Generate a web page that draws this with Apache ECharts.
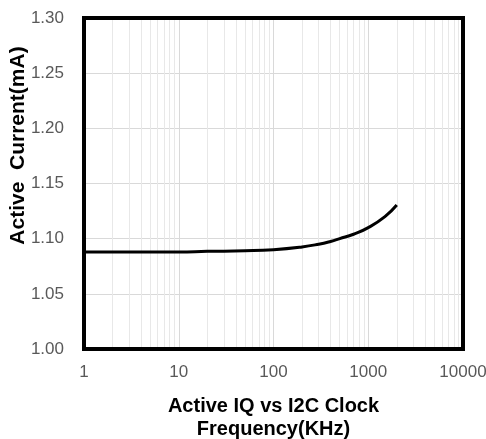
<!DOCTYPE html>
<html>
<head>
<meta charset="utf-8">
<script src="https://cdn.jsdelivr.net/npm/echarts@6/dist/echarts.min.js"></script>
<style>html,body{margin:0;padding:0;background:#fff;}#c{width:486px;height:439px;}</style>
</head>
<body>
<div id="c"></div>
<script>
var freq = [1, 2, 5, 10, 20, 50, 100, 200, 300, 400, 500, 700, 1000, 1500, 2000];
var current = [1.088, 1.088, 1.088, 1.088, 1.0885, 1.089, 1.090, 1.0925, 1.095, 1.0975, 1.100, 1.104, 1.110, 1.120, 1.1305];
var minorX = [2,3,4,5,6,7,8,9,20,30,40,50,60,70,80,90,200,300,400,500,600,700,800,900,2000,3000,4000,5000,6000,7000,8000,9000];
var xName = 'Active IQ vs I2C Clock\nFrequency(KHz)';
var yName = 'Active  Current(mA)';

var chart = echarts.init(document.getElementById('c'));
chart.setOption({
  animation: false,
  grid: {left: 84, top: 18, right: 23, bottom: 90, containLabel: false, outerBoundsMode: 'none',
    show: true, borderColor: '#000', borderWidth: 4, backgroundColor: 'transparent', z: 10},
  xAxis: {
    type: 'log', logBase: 10, min: 1, max: 10000,
    axisLine: {show: false}, axisTick: {show: false},
    splitLine: {show: true, lineStyle: {color: '#d9d9d9', width: 1}},
    axisLabel: {color: '#595959', fontSize: 17, fontFamily: 'Liberation Sans, Arial', margin: 15,
      formatter: function (v) { return String(Math.round(v)); }},
    name: xName, nameLocation: 'middle', nameGap: 46,
    nameTextStyle: {color: '#000', fontSize: 20, fontWeight: 'bold', fontFamily: 'Liberation Sans, Arial', lineHeight: 23}
  },
  yAxis: {
    type: 'value', min: 1.0, max: 1.3, interval: 0.05,
    axisLine: {show: false}, axisTick: {show: false},
    splitLine: {show: true, lineStyle: {color: '#d9d9d9', width: 1}},
    axisLabel: {color: '#595959', fontSize: 17, fontFamily: 'Liberation Sans, Arial', margin: 20,
      formatter: function (v) { return v.toFixed(2); }},
    name: yName, nameLocation: 'middle', nameGap: 55, nameRotate: 90, nameMoveOverlap: false,
    nameTextStyle: {color: '#000', fontSize: 21, fontWeight: 'bold', fontFamily: 'Liberation Sans, Arial', lineHeight: 21, padding: [0, 0, 0, 76]}
  },
  series: [{
    type: 'line', data: freq.map(function (f, i) { return [f, current[i]]; }),
    smooth: true, showSymbol: false, symbol: 'none',
    lineStyle: {color: '#000', width: 3}, z: 5,
    markLine: {
      silent: true, symbol: 'none', label: {show: false},
      lineStyle: {color: '#e8e8e8', width: 1, type: 'solid'},
      data: minorX.map(function (m) { return {xAxis: m}; }),
      z: 1
    }
  }]
});
</script>
</body>
</html>
